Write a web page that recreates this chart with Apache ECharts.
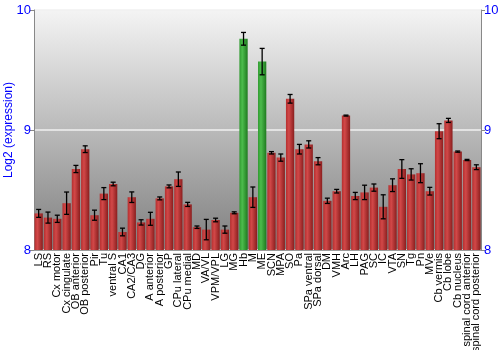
<!DOCTYPE html>
<html><head><meta charset="utf-8">
<script src="https://cdn.jsdelivr.net/npm/echarts@6/dist/echarts.min.js"></script>
<style>html,body{margin:0;padding:0;background:#fff}#c{width:500px;height:350px}</style>
</head><body><div id="c"></div>
<script>
const categories = ["LS","RS","Cx motor","Cx cingulate","OB anterior","OB posterior","Pir","Tu","ventral S","CA1","CA2/CA3","DG","A anterior","A posterior","GP","CPu lateral","CPu medial","MD","VA/VL","VPM/VPL","LG","MG","Hb","M","ME","SCN","MPA","SO","Pa","SPa ventral","SPa dorsal","DM","VMH","Arc","LH","PAG","SC","IC","VTA","SN","Tg","Pn","MVe","Cb vermis","Cb lobe","Cb nucleus","spinal cord anterior","spinal cord posterior"];
const values = [8.305,8.27,8.26,8.39,8.675,8.84,8.29,8.47,8.55,8.15,8.44,8.23,8.26,8.43,8.53,8.59,8.38,8.19,8.17,8.25,8.17,8.31,9.76,8.44,9.57,8.81,8.77,9.26,8.84,8.88,8.74,8.41,8.49,9.12,8.45,8.48,8.52,8.36,8.54,8.675,8.63,8.64,8.49,8.99,9.08,8.82,8.75,8.69];
const errors = [0.033,0.046,0.03,0.093,0.03,0.028,0.042,0.05,0.015,0.032,0.044,0.022,0.054,0.012,0.012,0.06,0.017,0.01,0.085,0.015,0.03,0.008,0.053,0.085,0.11,0.01,0.03,0.036,0.04,0.03,0.03,0.022,0.015,0.004,0.03,0.06,0.03,0.1,0.053,0.078,0.047,0.079,0.032,0.0625,0.017,0.005,0.005,0.02];
const highlighted = ["Hb","ME"];
const yTicks = [8, 9, 10];

const red = new echarts.graphic.LinearGradient(0,0,1,0,[{offset:0,color:'#b52f2f'},{offset:0.35,color:'#d24848'},{offset:1,color:'#8a1e1e'}]);
const green = new echarts.graphic.LinearGradient(0,0,1,0,[{offset:0,color:'#2f9a2f'},{offset:0.35,color:'#4cbc4c'},{offset:1,color:'#1f7a1f'}]);

const barData = values.map((v,i)=>({value:v,itemStyle:{color: highlighted.includes(categories[i]) ? green : red}}));
const errData = values.map((v,i)=>[i, v-errors[i], v+errors[i]]);

const chart = echarts.init(document.getElementById('c'), null, {renderer:'canvas'});
const yAxisBase = {
  type:'value', min:yTicks[0], max:yTicks[yTicks.length-1], interval:1,
  axisLine:{show:true, lineStyle:{color:'#888', width:1}},
  axisTick:{show:true, length:4, lineStyle:{color:'#888'}},
  axisLabel:{color:'#0000ff', fontSize:13, fontFamily:'Liberation Sans, Arial, sans-serif', margin:3},
  splitLine:{show:false}
};
chart.setOption({
  animation:false,
  grid:{left:34, right:19, top:10, bottom:100, show:true, borderWidth:0, containLabel:false, outerBoundsMode:'none',
    backgroundColor: new echarts.graphic.LinearGradient(0,0,0,1,[{offset:0,color:'#f4f4f4'},{offset:1,color:'#7f7f7f'}])},
  xAxis:{type:'category', data:categories,
    axisLine:{show:true, lineStyle:{color:'#999'}},
    axisTick:{show:false},
    axisLabel:{rotate:90, interval:0, fontSize:11, color:'#000', margin:3, fontFamily:'Liberation Sans, Arial, sans-serif'}},
  yAxis:[
    Object.assign({}, yAxisBase, {position:'left', name:'Log2 (expression)', nameLocation:'middle', nameGap:19, nameMoveOverlap:false,
      nameTextStyle:{color:'#0000ff', fontSize:12, fontFamily:'Liberation Sans, Arial, sans-serif'},
      splitLine:{show:true, lineStyle:{color:'#f0f0f0', width:1.5}}}),
    Object.assign({}, yAxisBase, {position:'right'})
  ],
  series:[
    {type:'bar', data:barData, barCategoryGap:'11%'},
    {type:'custom', data:errData, z:10,
      renderItem:function(params, api){
        const x = api.coord([api.value(0), api.value(1)])[0];
        const lo = api.coord([api.value(0), api.value(1)])[1];
        const hi = api.coord([api.value(0), api.value(2)])[1];
        const w = 2.5;
        const st = {stroke:'#000', lineWidth:1.3};
        return {type:'group', children:[
          {type:'line', shape:{x1:x,y1:lo,x2:x,y2:hi}, style:st},
          {type:'line', shape:{x1:x-w,y1:lo,x2:x+w,y2:lo}, style:st},
          {type:'line', shape:{x1:x-w,y1:hi,x2:x+w,y2:hi}, style:st}
        ]};
      }}
  ]
});
</script></body></html>
